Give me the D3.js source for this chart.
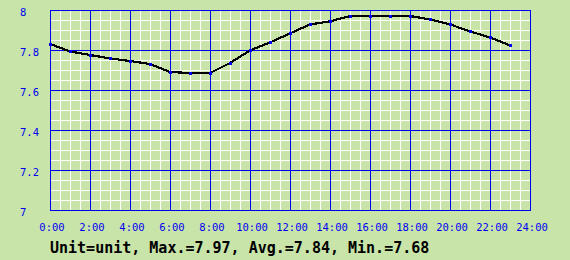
<!DOCTYPE html>
<html>
<head>
<meta charset="utf-8">
<script src="https://cdn.jsdelivr.net/npm/d3@7"></script>
<style>
    body { margin: 0; background: #c8e4a8; }
    svg { display: block; }
    text { font-family: "DejaVu Sans Mono", monospace; }
</style>
</head>
<body>
<svg id="chart"></svg>
<script>
// hourly readings
var hours = [0, 1, 2, 3, 4, 5, 6, 7, 8, 9, 10, 11, 12, 13, 14, 15, 16, 17, 18, 19, 20, 21, 22, 23];
var values = [7.83, 7.793, 7.775, 7.758, 7.745, 7.73, 7.69, 7.685, 7.685, 7.735, 7.798, 7.838,
    7.883, 7.928, 7.943, 7.97, 7.97, 7.97, 7.97, 7.953, 7.928, 7.893, 7.863, 7.823];
var xTicks = [0, 2, 4, 6, 8, 10, 12, 14, 16, 18, 20, 22, 24];
var xTickLabels = ["0:00", "2:00", "4:00", "6:00", "8:00", "10:00", "12:00", "14:00", "16:00",
    "18:00", "20:00", "22:00", "24:00"];
var yTicks = [7, 7.2, 7.4, 7.6, 7.8, 8];
var yTickLabels = ["7", "7.2", "7.4", "7.6", "7.8", "8"];
var summary = "Unit=unit, Max.=7.97, Avg.=7.84, Min.=7.68";

function render() {
    const width = 570;
    const height = 260;
    const left = 50, right = 530, top = 10, bottom = 210;
    const blue = "#0000ee";

    var svg = d3.select("#chart")
        .attr("width", width)
        .attr("height", height);

    svg.append("rect")
        .attr("width", width)
        .attr("height", height)
        .attr("fill", "#c8e4a8");

    var x = d3.scaleLinear().domain([0, 24]).range([left, right]);
    var y = d3.scaleLinear().domain([7, 8]).range([bottom, top]);

    var grid = svg.append("g").attr("shape-rendering", "crispEdges");

    // minor white grid, every half hour / 0.05
    var minorX = d3.range(0, 24.01, 0.5);
    var minorY = d3.range(0, 21).map(function (i) { return 7 + i * 0.05; });

    grid.selectAll(".minor-x")
        .data(minorX)
        .enter().append("line")
        .attr("x1", function (d) { return Math.round(x(d)) + 0.5; })
        .attr("x2", function (d) { return Math.round(x(d)) + 0.5; })
        .attr("y1", top)
        .attr("y2", bottom)
        .attr("stroke", "#ffffff")
        .attr("stroke-width", 1);

    grid.selectAll(".minor-y")
        .data(minorY)
        .enter().append("line")
        .attr("x1", left)
        .attr("x2", right)
        .attr("y1", function (d) { return Math.round(y(d)) + 0.5; })
        .attr("y2", function (d) { return Math.round(y(d)) + 0.5; })
        .attr("stroke", "#ffffff")
        .attr("stroke-width", 1);

    // major blue grid
    grid.selectAll(".major-x")
        .data(xTicks)
        .enter().append("line")
        .attr("x1", function (d) { return Math.round(x(d)) + 0.5; })
        .attr("x2", function (d) { return Math.round(x(d)) + 0.5; })
        .attr("y1", top)
        .attr("y2", bottom + 1)
        .attr("stroke", blue)
        .attr("stroke-width", 1);

    grid.selectAll(".major-y")
        .data(yTicks)
        .enter().append("line")
        .attr("x1", left)
        .attr("x2", right + 1)
        .attr("y1", function (d) { return Math.round(y(d)) + 0.5; })
        .attr("y2", function (d) { return Math.round(y(d)) + 0.5; })
        .attr("stroke", blue)
        .attr("stroke-width", 1);

    // tick labels
    svg.selectAll(".ylab")
        .data(yTicks)
        .enter().append("text")
        .attr("x", 20)
        .attr("y", function (d) { return y(d) + 6; })
        .attr("fill", blue)
        .attr("font-size", "10.5px")
        .text(function (d, i) { return yTickLabels[i]; });

    svg.selectAll(".xlab")
        .data(xTicks)
        .enter().append("text")
        .attr("x", function (d) { return x(d) + 2; })
        .attr("y", 231)
        .attr("text-anchor", "middle")
        .attr("fill", blue)
        .attr("font-size", "10.5px")
        .text(function (d, i) { return xTickLabels[i]; });

    // data line
    var line = d3.line()
        .x(function (d, i) { return x(hours[i]); })
        .y(function (d) { return y(d); });

    svg.append("path")
        .datum(values)
        .attr("d", line)
        .attr("fill", "none")
        .attr("stroke", "#000000")
        .attr("stroke-width", 2.2)
        .attr("shape-rendering", "crispEdges");

    svg.selectAll(".pt")
        .data(values)
        .enter().append("rect")
        .attr("x", function (d, i) { return Math.round(x(hours[i])) - 1.5; })
        .attr("y", function (d) { return Math.round(y(d)) - 1.5; })
        .attr("width", 3)
        .attr("height", 3)
        .attr("fill", blue)
        .attr("shape-rendering", "crispEdges");

    svg.append("text")
        .attr("x", 50)
        .attr("y", 253)
        .attr("fill", "#000000")
        .attr("font-size", "15px")
        .attr("font-weight", "bold")
        .text(summary);
}

render();
</script>
</body>
</html>
